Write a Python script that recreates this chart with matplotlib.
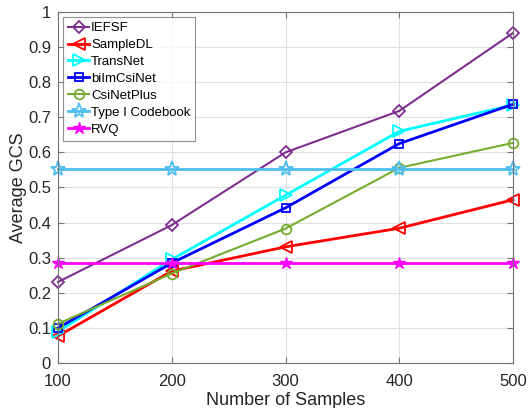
import matplotlib
matplotlib.use("Agg")
import matplotlib.pyplot as plt

plt.rcParams['font.family'] = ['Liberation Sans', 'DejaVu Sans']

samples = [100, 200, 300, 400, 500]
iefsf = [0.231, 0.393, 0.600, 0.718, 0.940]
sampledl = [0.077, 0.262, 0.331, 0.384, 0.465]
transnet = [0.090, 0.295, 0.478, 0.660, 0.735]
biimcsinet = [0.100, 0.285, 0.442, 0.625, 0.737]
csinetplus = [0.112, 0.255, 0.383, 0.556, 0.627]
typei = [0.552, 0.552, 0.552, 0.552, 0.552]
rvq = [0.285, 0.285, 0.285, 0.285, 0.285]

fig = plt.figure(figsize=(5.3, 4.08), dpi=100)
ax = fig.add_axes([0.1094, 0.110, 0.8587, 0.861])

series = [
    ("IEFSF", iefsf, (0.494, 0.184, 0.556), 'D', 1.5, 6),
    ("SampleDL", sampledl, (1, 0, 0), '<', 2.0, 8),
    ("TransNet", transnet, (0, 1, 1), '>', 2.0, 8),
    ("biImCsiNet", biimcsinet, (0, 0, 1), 's', 2.0, 6),
    ("CsiNetPlus", csinetplus, (0.466, 0.674, 0.188), 'o', 1.5, 7),
    ("Type I Codebook", typei, (0.301, 0.745, 0.933), '*', 2.0, 11),
    ("RVQ", rvq, (1, 0, 1), '*', 2.0, 9),
]
for name, vals, c, m, lw, ms in series:
    if name == "RVQ":
        ax.plot(samples, vals, color=c, lw=lw, marker=m, ms=ms, mfc=c, mec=c, label=name, clip_on=False)
    else:
        ax.plot(samples, vals, color=c, lw=lw, marker=m, ms=ms, mfc='none', mec=c, mew=1.3, label=name, clip_on=False)

ax.set_xlim(100, 500)
ax.set_ylim(0, 1)
ax.set_xticks([100, 200, 300, 400, 500])
ax.set_yticks([0, 0.1, 0.2, 0.3, 0.4, 0.5, 0.6, 0.7, 0.8, 0.9, 1])
ax.set_yticklabels(['0', '0.1', '0.2', '0.3', '0.4', '0.5', '0.6', '0.7', '0.8', '0.9', '1'])
ax.grid(True, color=(0.88, 0.88, 0.88), lw=0.8)
ax.set_axisbelow(True)
axc = (0.45, 0.45, 0.45)
for s in ax.spines.values():
    s.set_color(axc)
    s.set_linewidth(0.8)
ax.tick_params(direction='in', labelsize=12, color=axc, labelcolor=(0.15, 0.15, 0.15), length=4,
               top=True, right=True)
ax.tick_params(axis='x', pad=8)
ax.tick_params(axis='y', pad=5)
ax.set_xlabel("Number of Samples", fontsize=13, color=(0.15, 0.15, 0.15), labelpad=2)
ax.set_ylabel("Average GCS", fontsize=13, color=(0.15, 0.15, 0.15), labelpad=1)

leg = ax.legend(loc='upper left', bbox_to_anchor=(0.006, 0.992), fontsize=9.5, frameon=True,
                fancybox=False, edgecolor=axc, handlelength=1.6,
                handletextpad=0.15, borderpad=0.35, labelspacing=0.36, borderaxespad=0.2)
leg.get_frame().set_linewidth(0.8)

fig.savefig("out.png", dpi=100)
